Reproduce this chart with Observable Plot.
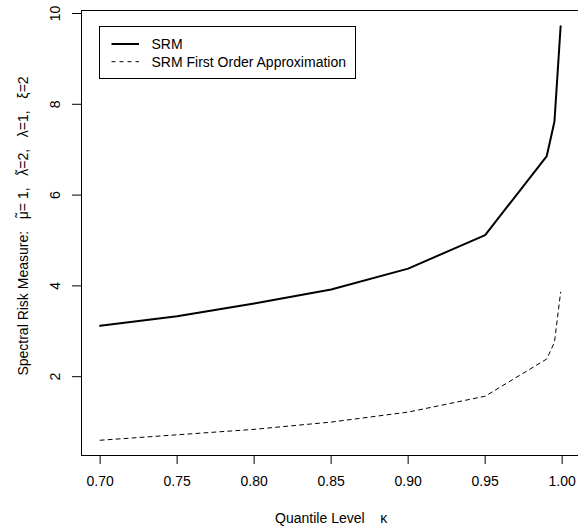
<!DOCTYPE html>
<html>
<head>
<meta charset="utf-8">
<script src="https://cdn.jsdelivr.net/npm/d3@7"></script>
<script src="https://cdn.jsdelivr.net/npm/@observablehq/plot@0.6"></script>
<style>
  html, body { margin: 0; padding: 0; background: #fff; }
  #wrap { position: relative; width: 578px; height: 527px; overflow: hidden; }
  #wrap > svg.chart { max-width: none !important; }
  #legend { position: absolute; left: 99px; top: 26px; }
</style>
</head>
<body>
<div id="wrap"></div>
<script>
// ---- data ----
const kappa = [0.70, 0.75, 0.80, 0.85, 0.90, 0.95, 0.99, 0.995, 0.999];
const srm = [3.12, 3.33, 3.61, 3.92, 4.38, 5.12, 6.86, 7.62, 9.72];
const srmApprox = [0.60, 0.72, 0.84, 1.00, 1.22, 1.57, 2.39, 2.76, 3.86];
const xTicks = [0.70, 0.75, 0.80, 0.85, 0.90, 0.95, 1.00];
const yTicks = [2, 4, 6, 8, 10];
const seriesNames = ["SRM", "SRM First Order Approximation"];
const NB = "\u00A0";
const xLabel = "Quantile Level" + NB.repeat(4) + "κ";
// y label pieces: [base text, has tilde accent on first char]
const yLabelParts = [
  ["Spectral Risk Measure:" + NB.repeat(3), false],
  ["μ", true], ["= 1," + NB.repeat(3), false],
  ["λ", true], ["=2," + NB.repeat(3), false],
  ["λ=1," + NB.repeat(3), false],
  ["ξ=2", false]
];
const yLabel = yLabelParts.map(p => p[0] + (p[1] ? "\u0303" : "")).join("");

const rows = kappa.map((k, i) => ({kappa: k, srm: srm[i], approx: srmApprox[i]}));
const FONT = "'Liberation Sans', Arial, Helvetica, sans-serif";

const chart = Plot.plot({
  className: "chart",
  width: 581,
  height: 527,
  marginLeft: 81,
  marginRight: 0.7,
  marginTop: 10,
  marginBottom: 72,
  style: {fontFamily: FONT, fontSize: "14px", background: "white", color: "black", maxWidth: "none"},
  x: {domain: [0.6879, 1.0121]},
  y: {domain: [0.264, 10.066]},
  marks: [
    Plot.line(rows, {x: "kappa", y: "srm", stroke: "black", strokeWidth: 2}),
    Plot.line(rows, {x: "kappa", y: "approx", stroke: "black", strokeWidth: 1, strokeDasharray: "4,4"}),
    Plot.frame({stroke: "black", strokeWidth: 1}),
    Plot.axisX({ticks: xTicks, tickSize: 9, tickPadding: 12, tickFormat: d3.format(".2f"), label: null, fontSize: 14}),
    Plot.axisY({ticks: yTicks, tickSize: 9, tickFormat: () => "", label: null}),
    Plot.text(yTicks, {y: d => d, text: d => String(d), frameAnchor: "left", dx: -26, rotate: -90,
      textAnchor: "middle", lineAnchor: "middle", fontSize: 14, fill: "black"}),
    Plot.text([xLabel], {text: d => d, frameAnchor: "bottom", dy: 63, lineAnchor: "middle",
      fontSize: 14, fill: "black"}),
    Plot.text([yLabel], {text: d => d, frameAnchor: "left", dx: -58, dy: -7, rotate: -90,
      lineAnchor: "middle", textAnchor: "middle", fontSize: 14, fill: "black"})
  ]
});
chart.style.maxWidth = "none";

const wrap = document.getElementById("wrap");
wrap.appendChild(chart);

// Replace the combining tildes in the y label with positioned tilde glyphs
const ns = "http://www.w3.org/2000/svg";
for (const t of chart.querySelectorAll("text")) {
  if (t.textContent === yLabel) {
    t.textContent = "";
    for (const [s, accent] of yLabelParts) {
      const base = document.createElementNS(ns, "tspan");
      base.textContent = s;
      t.appendChild(base);
      if (accent) {
        const w = base.getComputedTextLength();
        const tilde = document.createElementNS(ns, "tspan");
        tilde.textContent = "\u02DC";
        t.appendChild(tilde);
        const tw = tilde.getComputedTextLength();
        tilde.setAttribute("dx", -(w + tw) / 2);
        tilde.setAttribute("dy", -1.5);
        const after = document.createElementNS(ns, "tspan");
        after.setAttribute("dx", (w - tw) / 2);
        after.setAttribute("dy", 1.5);
        after.textContent = "";
        // attach next part into "after" by moving offsets to next tspan
        t.appendChild(after);
      }
    }
    // fix: empty tspans may not carry offsets; move dx/dy of empty tspans to the following tspan
    const spans = Array.from(t.querySelectorAll("tspan"));
    for (let i = 0; i < spans.length - 1; i++) {
      if (spans[i].textContent === "" && spans[i].hasAttribute("dx")) {
        spans[i + 1].setAttribute("dx", spans[i].getAttribute("dx"));
        spans[i + 1].setAttribute("dy", spans[i].getAttribute("dy"));
        spans[i].remove();
      }
    }
  }
}

// legend (inside plot area, top-left)
const lg = document.createElementNS(ns, "svg");
lg.setAttribute("id", "legend");
lg.setAttribute("width", 258);
lg.setAttribute("height", 54);
lg.innerHTML = `
  <rect x="0.5" y="0.5" width="256" height="52" fill="white" stroke="black" stroke-width="1"/>
  <line x1="12.5" x2="40" y1="18" y2="18" stroke="black" stroke-width="2"/>
  <line x1="12.5" x2="40" y1="35.7" y2="35.7" stroke="black" stroke-width="1" stroke-dasharray="4,4"/>
  <text x="52.5" y="18" dy="0.35em" font-family="${FONT}" font-size="14" fill="black">${seriesNames[0]}</text>
  <text x="52.5" y="35.7" dy="0.35em" font-family="${FONT}" font-size="14" fill="black">${seriesNames[1]}</text>
`;
wrap.appendChild(lg);
</script>
</body>
</html>
